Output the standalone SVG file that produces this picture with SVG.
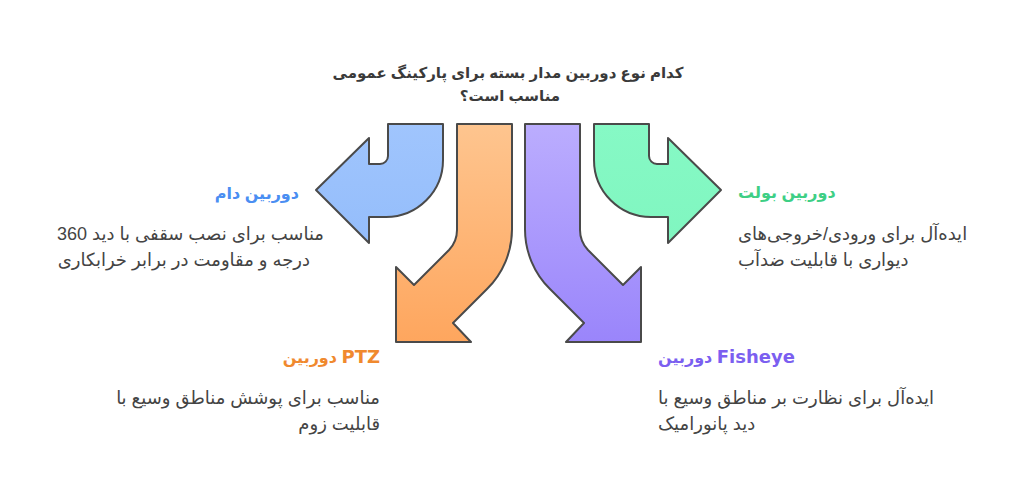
<svg xmlns="http://www.w3.org/2000/svg" width="1024" height="493" viewBox="0 0 1024 493">
<defs>
<linearGradient id="gBlue" x1="0" y1="0" x2="0" y2="1"><stop offset="0" stop-color="#a0c5fd"/><stop offset="1" stop-color="#94bdfb"/></linearGradient>
<linearGradient id="gOrange" x1="0" y1="0" x2="0" y2="1"><stop offset="0" stop-color="#fec58f"/><stop offset="1" stop-color="#fea65e"/></linearGradient>
<linearGradient id="gPurple" x1="0" y1="0" x2="0" y2="1"><stop offset="0" stop-color="#bbadfe"/><stop offset="1" stop-color="#9a85fb"/></linearGradient>
<linearGradient id="gGreen" x1="0" y1="0" x2="0" y2="1"><stop offset="0" stop-color="#86f9c5"/><stop offset="1" stop-color="#80f6c0"/></linearGradient>
</defs>
<style>
.arrow{stroke:#4a4a4a;stroke-width:2;stroke-linejoin:round}
.title{font-family:"Liberation Sans","DejaVu Sans",sans-serif;font-weight:bold;font-size:15px;fill:#3a3a3a}
.head{font-family:"Liberation Sans","DejaVu Sans",sans-serif;font-weight:bold;font-size:16px}
.lat{font-family:"DejaVu Sans",sans-serif;font-size:18px}
.desc{font-family:"Liberation Sans","DejaVu Sans",sans-serif;font-size:18px;fill:#444444}
</style>
<rect width="1024" height="493" fill="#ffffff"/>
<g id="title">
<text class="title" x="508" y="78" text-anchor="middle">کدام نوع دوربین مدار بسته برای پارکینگ عمومی</text>
<text class="title" x="510" y="101" text-anchor="middle">مناسب است؟</text>
</g>
<g id="connectors">
<path id="arrow-dome" class="arrow" fill="url(#gBlue)" d="M 388 124 L 443 124 L 443 160 A 57 57 0 0 1 386 217 L 369 217 L 369 243 L 316 190 L 369 138 L 369 164 L 380 164 A 8 8 0 0 0 388 156 Z"/>
<path id="arrow-ptz" class="arrow" fill="url(#gOrange)" d="M 457 124 L 512 124 L 512 229 A 84 84 0 0 1 487 289 L 453 323 L 471 342 L 396 342 L 396 267 L 414 285 L 449 250 A 29 29 0 0 0 457 230 Z"/>
<path id="arrow-fisheye" class="arrow" fill="url(#gPurple)" d="M 580 124 L 525 124 L 525 229 A 84 84 0 0 0 550 289 L 584 323 L 566 342 L 641 342 L 641 267 L 623 285 L 588 250 A 29 29 0 0 1 580 230 Z"/>
<path id="arrow-bullet" class="arrow" fill="url(#gGreen)" d="M 649 124 L 594 124 L 594 160 A 57 57 0 0 0 651 217 L 668 217 L 668 243 L 721 190 L 668 138 L 668 164 L 657 164 A 8 8 0 0 1 649 156 Z"/>
</g>
<g id="node-dome">
<text class="head" x="299" y="199" text-anchor="end" fill="#4a8ef2">دوربین دام</text>
<text class="desc" x="324" y="240" text-anchor="end">مناسب برای نصب سقفی با دید 360</text>
<text class="desc" x="310" y="266" text-anchor="end">درجه و مقاومت در برابر خرابکاری</text>
</g>
<g id="node-bullet">
<text class="head" x="738" y="198" fill="#3ecf85">دوربین بولت</text>
<text class="desc" x="738" y="240">ایده‌آل برای ورودی/خروجی‌های</text>
<text class="desc" x="738" y="266">دیواری با قابلیت ضدآب</text>
</g>
<g id="node-ptz">
<text class="head" x="380" y="363" text-anchor="end" fill="#f0892e">دوربین <tspan class="lat">PTZ</tspan></text>
<text class="desc" x="380" y="404" text-anchor="end">مناسب برای پوشش مناطق وسیع با</text>
<text class="desc" x="380" y="430" text-anchor="end">قابلیت زوم</text>
</g>
<g id="node-fisheye">
<text class="head" x="658" y="363" fill="#7b5ff0">دوربین <tspan class="lat">Fisheye</tspan></text>
<text class="desc" x="658" y="404">ایده‌آل برای نظارت بر مناطق وسیع با</text>
<text class="desc" x="658" y="430">دید پانورامیک</text>
</g>
</svg>
